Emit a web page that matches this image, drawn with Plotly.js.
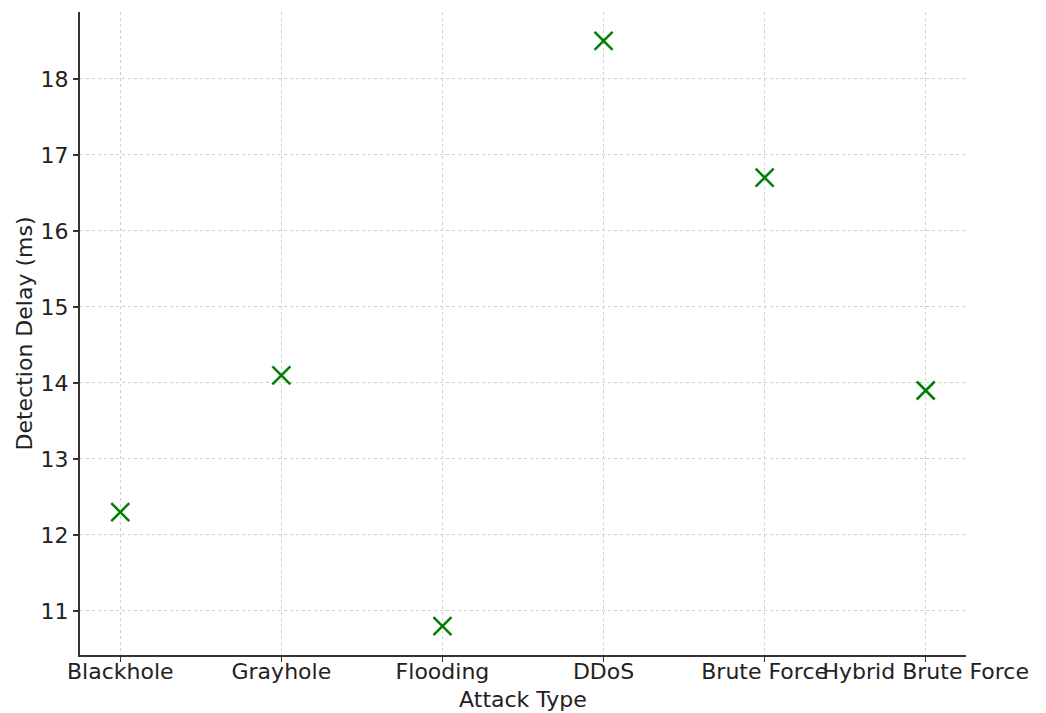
<!DOCTYPE html>
<html>
<head>
<meta charset="utf-8">
<script src="https://cdn.plot.ly/plotly-3.0.1.min.js"></script>
<style>html,body{margin:0;padding:0;background:#fff;}#chart{width:1046px;height:713px;}</style>
</head>
<body>
<div id="chart"></div>
<script>
const attackTypes = ["Blackhole", "Grayhole", "Flooding", "DDoS", "Brute Force", "Hybrid Brute Force"];
const detectionDelay = [12.3, 14.1, 10.8, 18.5, 16.7, 13.9];
const yTicks = [11, 12, 13, 14, 15, 16, 17, 18];

const font = {family: "DejaVu Sans, sans-serif", size: 22, color: "#222"};
Plotly.newPlot("chart", [{
  type: "scatter", mode: "markers",
  x: attackTypes, y: detectionDelay,
  marker: {symbol: "x-thin-open", size: 18, color: "#008000", line: {color: "#008000", width: 2.5}}
}], {
  width: 1046, height: 713,
  margin: {l: 80, r: 80, t: 12, b: 58},
  paper_bgcolor: "#fff", plot_bgcolor: "#fff",
  font: font,
  showlegend: false,
  xaxis: {
    type: "category", range: [-0.25, 5.25],
    tickangle: 0, automargin: false, ticklabelstandoff: -9,
    title: {text: "Attack Type", font: font, standoff: 8},
    showline: true, linecolor: "#333", linewidth: 2,
    ticks: "outside", ticklen: 5, tickwidth: 1.5, tickcolor: "#333",
    showgrid: true, gridcolor: "#cfcfcf", griddash: "3px,3px", gridwidth: 1,
    zeroline: false, tickfont: font
  },
  yaxis: {
    range: [10.42, 18.88],
    tickvals: yTicks, automargin: false,
    title: {text: "Detection Delay (ms)", font: font, standoff: 2},
    showline: true, linecolor: "#333", linewidth: 2,
    ticks: "outside", ticklen: 5, tickwidth: 1.5, tickcolor: "#333",
    showgrid: true, gridcolor: "#cfcfcf", griddash: "3px,3px", gridwidth: 1,
    zeroline: false, tickfont: font
  }
}, {displayModeBar: false, staticPlot: true});
</script>
</body>
</html>
